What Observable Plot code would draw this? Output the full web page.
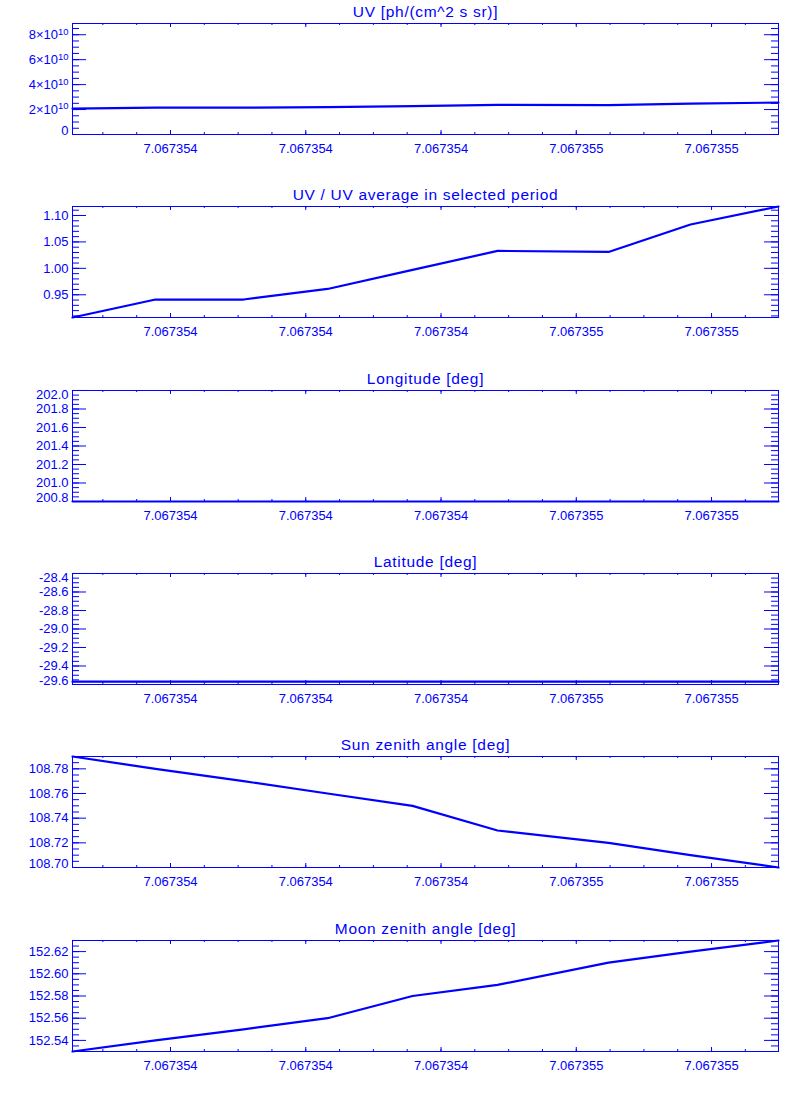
<!DOCTYPE html>
<html>
<head>
<meta charset="utf-8">
<script src="https://cdn.jsdelivr.net/npm/d3@7"></script>
<script src="https://cdn.jsdelivr.net/npm/@observablehq/plot@0.6"></script>
<style>
  html, body { margin: 0; padding: 0; background: #fff; }
  #chart svg { display: block; }
</style>
</head>
<body>
<div id="chart"></div>
<script>
// ---- data ----
const times = [7.0673538551, 7.0673539778, 7.0673541080, 7.0673542322, 7.0673543579,
               7.0673544836, 7.0673546477, 7.0673547689, 7.0673548990];
const uv = [2.08e10, 2.15e10, 2.15e10, 2.20e10, 2.28e10, 2.37e10, 2.36e10, 2.48e10, 2.56e10];
const uvRatio = [0.907, 0.941, 0.941, 0.961, 0.997, 1.033, 1.031, 1.083, 1.117];
const longitude = [200.8, 200.8, 200.8, 200.8, 200.8, 200.8, 200.8, 200.8, 200.8];
const latitude = [-29.57, -29.57, -29.57, -29.57, -29.57, -29.57, -29.57, -29.57, -29.57];
const sunZenith = [108.79, 108.78, 108.77, 108.76, 108.75, 108.73, 108.72, 108.71, 108.70];
const moonZenith = [152.53, 152.54, 152.55, 152.56, 152.58, 152.59, 152.61, 152.62, 152.63];

const titles = [
  "UV [ph/(cm^2 s sr)]",
  "UV / UV average in selected period",
  "Longitude [deg]",
  "Latitude [deg]",
  "Sun zenith angle [deg]",
  "Moon zenith angle [deg]"
];

const xTicks = [7.0673540, 7.0673542, 7.0673544, 7.0673546, 7.0673548];
const xMinorStep = 5e-8;

const uvTicks = [0, 2e10, 4e10, 6e10, 8e10];
const ratioTicks = [0.95, 1.00, 1.05, 1.10];
const lonTicks = [200.8, 201.0, 201.2, 201.4, 201.6, 201.8, 202.0];
const latTicks = [-29.6, -29.4, -29.2, -29.0, -28.8, -28.6, -28.4];
const sunTicks = [108.70, 108.72, 108.74, 108.76, 108.78];
const moonTicks = [152.54, 152.56, 152.58, 152.60, 152.62];

const uvDomain = [0, 8.9e10];
const lonDomain = [200.8, 202.0];
const latDomain = [-29.6, -28.4];

// ---- layout / style ----
const BLUE = "#0000ff";
const FONT = "'Liberation Sans', Arial, Helvetica, sans-serif";
const W = 800, PH = 1100 / 6;
const ML = 72, MR = 22, MT = 23, FH = 111;
const MB = PH - MT - FH;
const FW = W - ML - MR;

function minorTicks(domain, base, step) {
  const [a, b] = d3.extent(domain);
  const k0 = Math.ceil((a - base) / step - 1e-6);
  const k1 = Math.floor((b - base) / step + 1e-6);
  return d3.range(k0, k1 + 1).map(k => base + k * step);
}

const uvFmt = d => d === 0 ? "0" : `${Math.round(d / 1e10)}×10^10`;

const panels = [
  {title: titles[0], y: uv, ticks: uvTicks, minor: 0.5e10, fmt: uvFmt, domain: uvDomain},
  {title: titles[1], y: uvRatio, ticks: ratioTicks, minor: 0.01, fmt: d => d.toFixed(2)},
  {title: titles[2], y: longitude, ticks: lonTicks, minor: 0.05, fmt: d => d.toFixed(1), domain: lonDomain},
  {title: titles[3], y: latitude, ticks: latTicks, minor: 0.05, fmt: d => d.toFixed(1), domain: latDomain},
  {title: titles[4], y: sunZenith, ticks: sunTicks, minor: 0.005, fmt: d => d.toFixed(2)},
  {title: titles[5], y: moonZenith, ticks: moonTicks, minor: 0.005, fmt: d => d.toFixed(2)}
];

const xDomain = d3.extent(times);
const xMinor = minorTicks(xDomain, xTicks[0], xMinorStep);

const chart = document.getElementById("chart");

for (const p of panels) {
  const data = times.map((t, i) => ({t, v: p.y[i]}));
  const yDomain = p.domain || d3.extent(p.y);
  const [lo, hi] = d3.extent(yDomain);
  const eps = (hi - lo) * 1e-6;
  const yMinor = minorTicks(yDomain, p.ticks[0], p.minor);
  const topTicks = p.ticks.filter(d => Math.abs(d - hi) < eps);
  const botTicks = p.ticks.filter(d => Math.abs(d - lo) < eps);
  const midTicks = p.ticks.filter(d => !topTicks.includes(d) && !botTicks.includes(d));
  const yAxis = (ticks, dy) => Plot.axisY({ticks, tickSize: 0, tickPadding: 4, tickFormat: p.fmt, label: null, fill: BLUE, dy});
  const svg = Plot.plot({
    width: W,
    height: PH,
    marginLeft: ML,
    marginRight: MR,
    marginTop: MT,
    marginBottom: MB,
    style: {background: "#fff", color: BLUE, fontFamily: FONT, fontSize: "13px", overflow: "visible"},
    x: {domain: xDomain},
    y: {domain: yDomain},
    marks: [
      // x ticks: bottom & top, pointing inward
      Plot.tickX(xMinor, {stroke: BLUE, insetTop: FH - 2}),
      Plot.tickX(xMinor, {stroke: BLUE, insetBottom: FH - 2}),
      Plot.tickX(xTicks, {stroke: BLUE, insetTop: FH - 4}),
      Plot.tickX(xTicks, {stroke: BLUE, insetBottom: FH - 4}),
      // y ticks: left & right, pointing inward
      Plot.tickY(yMinor, {stroke: BLUE, insetRight: FW - 7}),
      Plot.tickY(yMinor, {stroke: BLUE, insetLeft: FW - 7}),
      Plot.tickY(p.ticks, {stroke: BLUE, insetRight: FW - 14}),
      Plot.tickY(p.ticks, {stroke: BLUE, insetLeft: FW - 14}),
      Plot.axisX({ticks: xTicks, tickSize: 0, tickPadding: 9, tickFormat: d => d.toFixed(6), label: null, fill: BLUE}),
      yAxis(midTicks, 0),
      topTicks.length ? yAxis(topTicks, 4.5) : null,
      botTicks.length ? yAxis(botTicks, -4) : null,
      Plot.line(data, {x: "t", y: "v", stroke: BLUE, strokeWidth: 2.2}),
      Plot.frame({stroke: BLUE, strokeWidth: 1}),
      Plot.text([p.title], {frameAnchor: "top", dy: -11, lineAnchor: "middle", fontSize: 15.5, fill: BLUE,
                            style: "letter-spacing: 0.7px"})
    ]
  });
  // render "N×10^10" labels with a real superscript
  d3.select(svg).selectAll("text").each(function () {
    const s = this.textContent;
    const m = /^(.*×10)\^(\d+)$/.exec(s);
    if (m) {
      const el = d3.select(this);
      el.text(null);
      el.append("tspan").text(m[1]);
      el.append("tspan").attr("dy", "-0.45em").attr("font-size", "9.5px").text(m[2]);
    }
  });
  // widen title letter spacing (IDL font is wider)
  d3.select(svg).selectAll("text").filter(function () { return titles.includes(this.textContent); })
    .attr("letter-spacing", "0.7px");
  chart.appendChild(svg);
}
</script>
</body>
</html>
